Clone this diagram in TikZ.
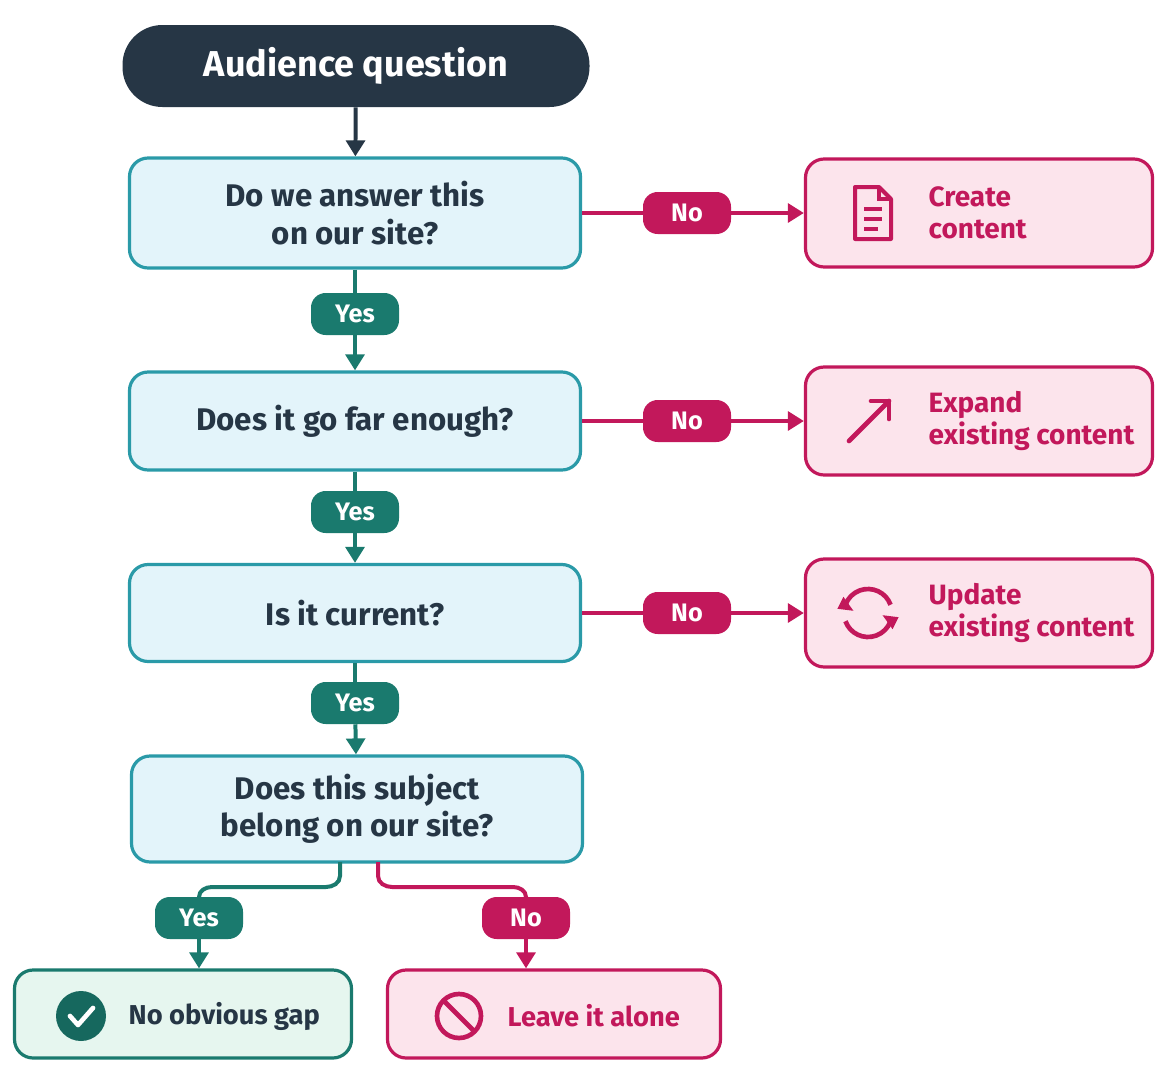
\documentclass[tikz,border=0pt]{standalone}
\usepackage{fontspec}
\setmainfont{Fira Sans}
\usetikzlibrary{arrows.meta}
\definecolor{dark}{HTML}{263645}
\definecolor{teal}{HTML}{1A7A6E}
\definecolor{pinkc}{HTML}{C2185B}
\definecolor{bluef}{HTML}{E3F4FA}
\definecolor{bluel}{HTML}{2A9AA8}
\definecolor{pinkf}{HTML}{FCE4EC}
\definecolor{greenf}{HTML}{E6F6EF}
\definecolor{txt}{HTML}{263645}
\begin{document}
\begin{tikzpicture}[x=0.0264cm,y=-0.0264cm,
  q/.style={draw=bluel,fill=bluef,line width=2.4pt,rounded corners=14pt,minimum width=451*0.0264cm,align=center,font=\fontsize{23.5}{28}\selectfont\bfseries,text=txt},
  r/.style={draw=pinkc,fill=pinkf,line width=2.4pt,rounded corners=14pt,minimum width=347*0.0264cm,minimum height=108*0.0264cm},
  rt/.style={align=left,font=\fontsize{21}{24}\selectfont\bfseries,text=pinkc,anchor=west},
  pill/.style={rounded corners=11pt,minimum width=88*0.0264cm,minimum height=42*0.0264cm,font=\fontsize{19}{20}\selectfont\bfseries,text=white,inner sep=0pt},
  yes/.style={pill,fill=teal},
  no/.style={pill,fill=pinkc},
  tip/.style={-{Triangle[length=12pt,width=14pt]}},
  ta/.style={draw=teal,line width=3pt,tip},
  pa/.style={draw=pinkc,line width=3pt,tip},
  tl/.style={draw=teal,line width=3pt},
  pl/.style={draw=pinkc,line width=3pt}]
\useasboundingbox[fill=white] (0,0) rectangle (1169,1086);
\node[fill=dark,rounded corners=30pt,minimum width=467*0.0264cm,minimum height=82*0.0264cm,text=white,font=\fontsize{27}{30}\selectfont\bfseries] (top) at (356,66) {Audience question};
\node[q,minimum height=110*0.0264cm] (q1) at (355,213) {Do we answer this\\on our site?};
\node[q,minimum height=98*0.0264cm] (q2) at (355,421) {Does it go far enough?};
\node[q,minimum height=97*0.0264cm] (q3) at (355,613) {Is it current?};
\node[q,minimum height=106*0.0264cm] (q4) at (357,809) {Does this subject\\belong on our site?};
\node[r] (r1) at (979,213) {};
\node[r] (r2) at (979,421) {};
\node[r] (r3) at (979,613) {};
\node[rt] (t1) at (924,213) {Create\\content};
\node[rt] (t2) at (924,421) {Expand\\existing content};
\node[rt] (t3) at (924,613) {Update\\existing content};
\node[draw=teal,fill=greenf,line width=2.4pt,rounded corners=14pt,minimum width=337*0.0264cm,minimum height=88*0.0264cm] (g) at (183,1014) {};
\node[draw=pinkc,fill=pinkf,line width=2.4pt,rounded corners=14pt,minimum width=333*0.0264cm,minimum height=88*0.0264cm] (p) at (554,1014) {};
\node[anchor=west,font=\fontsize{20.5}{22}\selectfont\bfseries,text=txt] (gt) at (124,1016) {No obvious gap};
\node[anchor=west,font=\fontsize{20.5}{22}\selectfont\bfseries,text=pinkc] (pt) at (503,1016) {Leave it alone};
\draw[draw=dark,line width=3pt,tip] (top) -- (q1);
\node[yes] (y1) at (355,314) {Yes};
\node[yes] (y2) at (355,512) {Yes};
\node[yes] (y3) at (355,703) {Yes};
\draw[tl] (q1) -- (y1); \draw[ta] (y1) -- (q2);
\draw[tl] (q2) -- (y2); \draw[ta] (y2) -- (q3);
\draw[tl] (q3) -- (y3); \draw[ta] (y3) -- (q4);
\node[no] (n1) at (687,213) {No};
\node[no] (n2) at (687,421) {No};
\node[no] (n3) at (687,613) {No};
\foreach \i in {1,2,3}{\draw[pl] (q\i) -- (n\i); \draw[pa] (n\i) -- (r\i);}
\node[yes] (y4) at (199,918) {Yes};
\node[no] (n4) at (526,918) {No};
\coordinate (a1) at (340,862); \coordinate (a2) at (378,862);
\draw[tl] (a1) -- (340,876) to[out=-90,in=0] (326,887) -- (212,887) to[out=180,in=90] (199,897) -- (y4);
\draw[ta] (y4) -- (y4 |- g.north);
\draw[pl] (a2) -- (378,876) to[out=-90,in=180] (392,887) -- (513,887) to[out=0,in=90] (526,897) -- (n4);
\draw[pa] (n4) -- (n4 |- p.north);
\begin{scope}[shift={(873,213)}]
\draw[pinkc,line width=3pt,line join=round] (-18,-26) -- (6,-26) -- (18,-14) -- (18,26) -- (-18,26) -- cycle;
\draw[pinkc,line width=3pt] (6,-26) -- (6,-14) -- (18,-14);
\draw[pinkc,line width=3pt] (-9,-4) -- (9,-4) (-9,6) -- (9,6) (-9,16) -- (5,16);
\end{scope}
\begin{scope}[shift={(869,421)}]
\draw[pinkc,line width=3.5pt,line cap=round] (-20,20) -- (20,-20);
\draw[pinkc,line width=3.5pt,line cap=round,line join=round] (2,-20) -- (20,-20) -- (20,-2);
\end{scope}
\begin{scope}[shift={(868,613)}]
\draw[pinkc,line width=3.5pt] (160:24) arc (160:20:24);
\draw[pinkc,line width=3.5pt] (-20:24) arc (-20:-160:24);
\fill[pinkc] (20:24) ++(-8,-6) -- ++(16,2) -- ++(-6,12) -- cycle;
\fill[pinkc] (-160:24) ++(8,6) -- ++(-16,-2) -- ++(6,-12) -- cycle;
\end{scope}
\begin{scope}[shift={(81,1016)}]
\fill[teal!85!black] (0,0) circle (25);
\draw[white,line width=3.5pt,line cap=round,line join=round] (-11,0) -- (-3,9) -- (12,-8);
\end{scope}
\begin{scope}[shift={(459,1016)}]
\draw[pinkc,line width=3.5pt] (0,0) circle (22);
\draw[pinkc,line width=3.5pt] (-15.5,-15.5) -- (15.5,15.5);
\end{scope}
\end{tikzpicture}
\end{document}
